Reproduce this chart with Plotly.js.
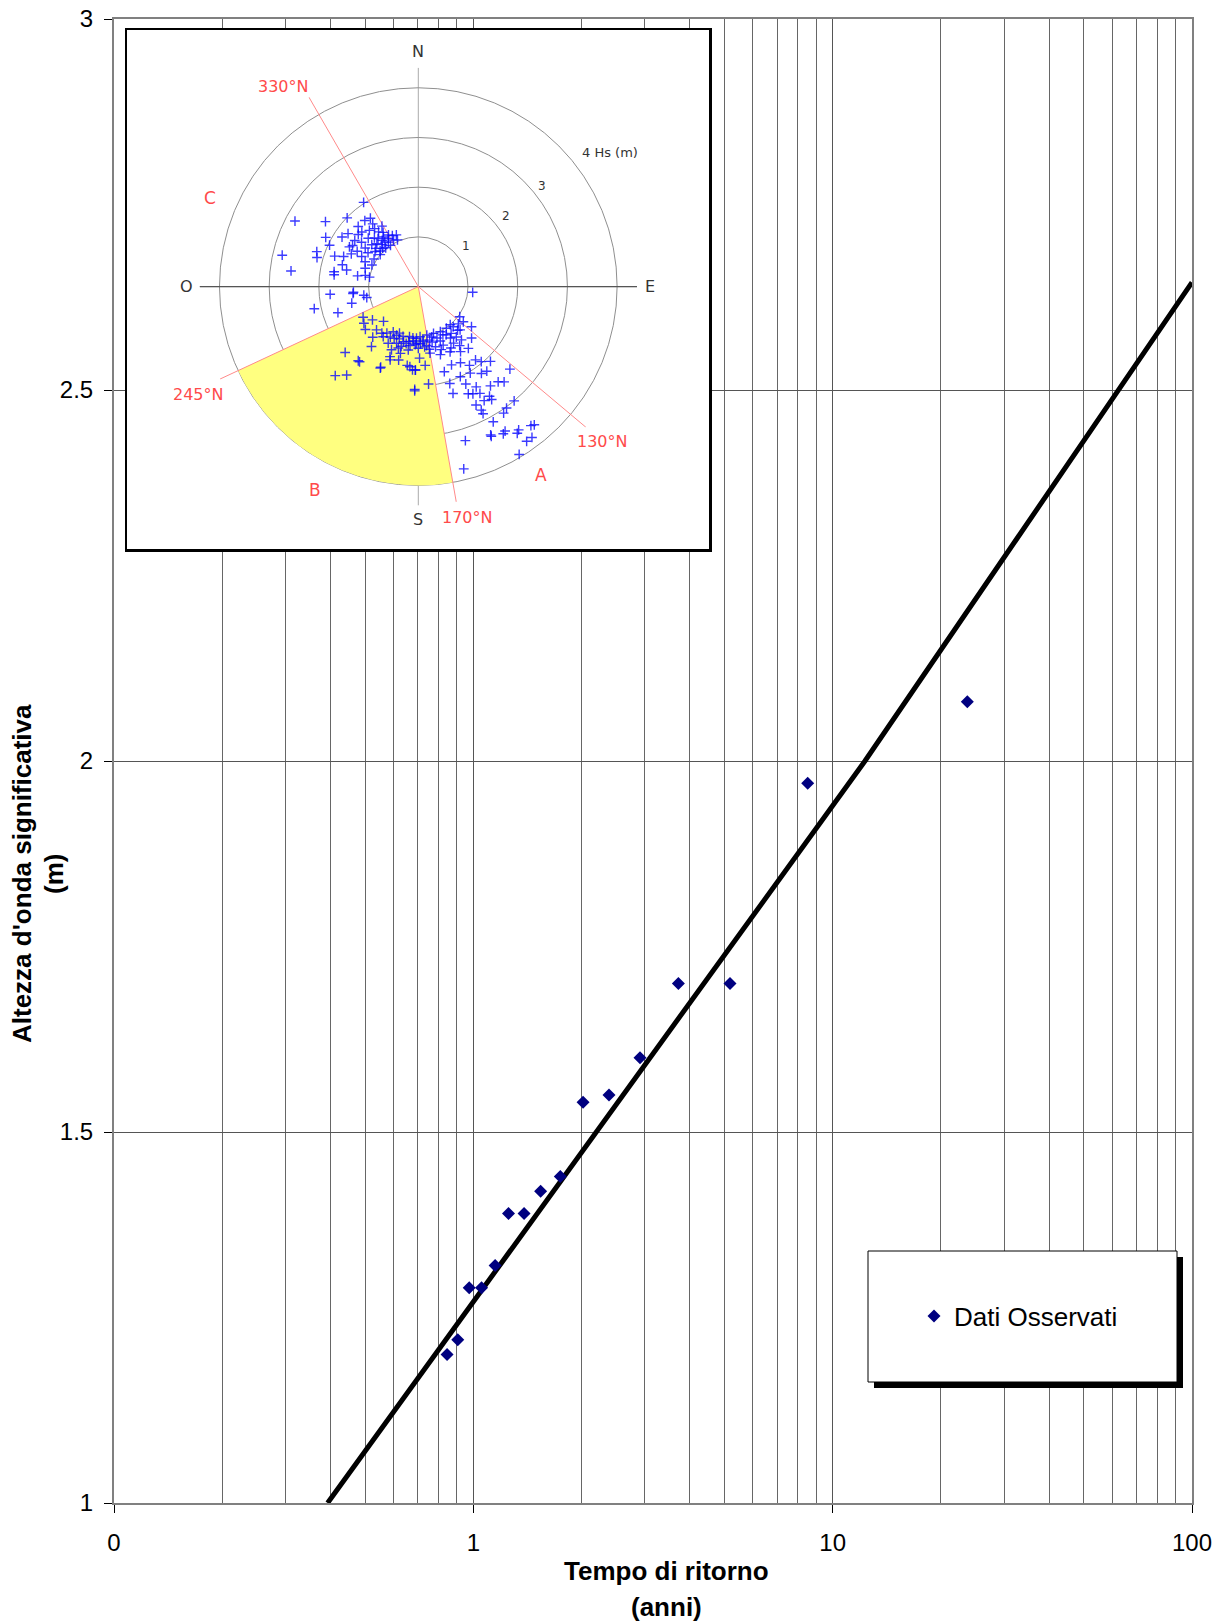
<!DOCTYPE html>
<html>
<head>
<meta charset="utf-8">
<script src="https://cdn.plot.ly/plotly-3.0.1.min.js"></script>
<style>
  html, body { margin: 0; padding: 0; background: #ffffff; }
  #chart { width: 1224px; height: 1623px; }
</style>
</head>
<body>
<div id="chart"></div>
<script>
// ================= DATA =================
// Observed significant wave heights vs return period
const returnPeriodYears = [0.845, 0.905, 0.974, 1.054, 1.15, 1.253, 1.384, 1.539, 1.746, 2.02, 2.385, 2.91, 3.72, 5.18, 8.52, 23.7];
const hsObserved        = [1.20, 1.22, 1.29, 1.29, 1.32, 1.39, 1.39, 1.42, 1.44, 1.54, 1.55, 1.60, 1.70, 1.70, 1.97, 2.08];

// Fitted curve, read at points along the drawn line
const fitReturnPeriod = [0.393, 2.55, 12.3, 100];
const fitHs           = [1.0, 1.543, 2.0, 2.645];

// Axis ticks
const xTickVals = [0.1, 1, 10, 100];
const xTickText = ['0', '1', '10', '100'];
const yTickVals = [1, 1.5, 2, 2.5, 3];
const yTickText = ['1', '1.5', '2', '2.5', '3'];

// Inset: wave direction (deg from North) and Hs (m)
const insetDirection = [
  298,305,314,327,321,283,277,298,289,286,295,290,292,286,280,278,283,280,282,281,303,307,302,315,314,300,298,295,314,312,323,325,320,319,323,328,332,337,336,309,310,306,295,306,289,324,325,324,
  316,318,322,326,330,312,317,327,333,308,311,304,300,296,319,329,302,313,320,326,
  265,264,261,258,252,256,258,265,
  96,
  241,236,234,225,231,224,218,214,209,202,222,215,209,204,197,190,182,175,218,208,201,196,192,183,203,195,189,180,228,219,202,201,195,205,188,182,186,223,219,182,179,
  126,128,127,140,186,178,170,162,154,146,139,136,153,160,168,175,182,148,143,174,164,157,148,141,134,170,162,154,147,141,175,182,163,157,151,147,142,140,136,162,155,149,144,141,154,150,150,144,140,138,132,153,162,
  150,158,166,172,185,190,195,200,205,145,138,133,165,178,188,198,160,152,170,145,
  155,147,154,150,147,153,153,146,151,144,140,163,154,149,146,145,145,143,140,149,166,150,154,141,
  182,218,205,184,174
];
const insetHs = [
  2.81,2.28,1.99,2.02,1.71,2.81,2.58,2.11,2.16,2.12,1.97,1.79,1.62,1.59,1.72,1.71,1.48,1.24,1.09,1.00,1.83,1.77,1.56,1.71,1.58,1.42,1.29,1.18,1.40,1.26,1.46,1.68,1.26,1.12,1.12,1.14,1.06,1.13,1.03,1.12,1.00,1.32,1.03,1.58,1.13,1.36,1.22,1.56,
  1.20,1.32,1.18,1.08,1.20,1.15,1.05,1.30,1.15,1.45,1.60,1.22,1.60,1.50,1.50,1.42,1.05,1.05,1.02,1.00,
  1.78,1.32,1.11,2.14,1.70,1.38,1.06,1.31,
  1.10,
  1.27,1.32,1.14,0.99,1.37,1.21,1.19,1.13,1.04,1.01,1.37,1.23,1.16,1.07,1.05,1.02,1.04,1.08,1.53,1.29,1.22,1.25,1.17,1.17,1.38,1.39,1.29,1.24,1.98,1.92,1.52,1.58,1.53,1.79,1.60,1.68,1.62,2.45,2.29,2.07,1.44,
  1.03,1.15,1.34,1.00,1.04,1.01,0.99,0.99,1.01,1.01,1.07,1.21,1.09,1.10,1.10,1.11,1.14,1.22,1.27,1.22,1.26,1.28,1.34,1.38,1.49,1.36,1.44,1.46,1.56,1.60,1.59,1.68,1.79,1.71,1.75,1.89,1.87,1.97,2.09,2.05,2.00,2.03,2.16,2.19,2.18,2.33,2.48,2.47,2.50,2.58,2.48,2.42,2.26,
  1.12,1.18,1.15,1.20,1.10,1.12,1.15,1.12,1.15,1.15,1.18,1.10,1.05,1.15,1.20,1.30,1.35,1.40,1.28,1.45,
  2.38,2.63,2.65,2.65,2.71,2.79,2.87,3.07,3.11,3.02,3.00,3.24,3.32,3.39,3.56,3.52,3.80,3.80,3.63,3.94,3.78,3.42,3.35,3.60,
  2.10,1.92,1.81,1.68,1.97
];
// Sector B (shaded) bounds in deg N and its Hs extent
const sectorBounds = [170, 245];
const sectorHs = 4;
// Sector boundary directions (deg N)
const boundaryDirections = [330, 130, 245, 170];
// Hs rings
const ringValues = [1, 2, 3, 4];

// ================= LAYOUT HELPERS =================
const W = 1224, H = 1623;
const margin = {l: 114, r: 32, t: 19, b: 120};
const plotW = W - margin.l - margin.r;
const plotH = H - margin.t - margin.b;
const toPaperX = px => (px - margin.l) / plotW;
const toPaperY = py => (H - margin.b - py) / plotH;

const FONT = 'Liberation Sans, Arial, sans-serif';
const INSET_FONT = 'DejaVu Sans, sans-serif';

// inset geometry (pixels)
const insetBox = {x0: 127, y0: 30, x1: 709, y1: 549};
const polarCenter = {x: 418.3, y: 286.6};
const polarRmax = 4.4;
const polarRadiusPx = 218.7;
const pxPerMeter = polarRadiusPx / polarRmax;

// minor log gridlines
const minorGrid = [];
[0.1, 1, 10].forEach(d => { for (let k = 2; k <= 9; k++) minorGrid.push(+(k * d).toPrecision(3)); });

// inset labels: text placed at (Hs radius, bearing)
const insetLabels = [
  {text: 'N', r: 4.73, th: 0, color: '#333333', size: 16},
  {text: 'S', r: 4.68, th: 180, color: '#333333', size: 16},
  {text: 'E', r: 4.66, th: 90, color: '#333333', size: 16},
  {text: 'O', r: 4.66, th: 270, color: '#333333', size: 16},
  {text: '330°N', r: 4.86, th: 326, color: '#ff4a4a', size: 16},
  {text: '245°N', r: 4.93, th: 244, color: '#ff4a4a', size: 16},
  {text: '130°N', r: 4.85, th: 130, color: '#ff4a4a', size: 16},
  {text: '170°N', r: 4.75, th: 168, color: '#ff4a4a', size: 16},
  {text: 'A', r: 4.53, th: 147, color: '#ff4a4a', size: 17},
  {text: 'B', r: 4.59, th: 207, color: '#ff4a4a', size: 17},
  {text: 'C', r: 4.56, th: 293, color: '#ff4a4a', size: 17},
  {text: '1', r: 1.26, th: 50, color: '#333333', size: 12},
  {text: '2', r: 2.26, th: 51, color: '#333333', size: 12},
  {text: '3', r: 3.21, th: 51, color: '#333333', size: 12},
  {text: '4 Hs (m)', r: 4.72, th: 55, color: '#333333', size: 13}
];

// ================= TRACES =================
const traces = [
  {
    type: 'scatter', x: fitReturnPeriod, y: fitHs, mode: 'lines',
    line: {color: '#000000', width: 5}, showlegend: false, hoverinfo: 'skip'
  },
  {
    type: 'scatter', x: returnPeriodYears, y: hsObserved, mode: 'markers',
    name: 'Dati Osservati',
    marker: {symbol: 'diamond', size: 10, color: '#000080'}
  },
  // placeholder so the inset frame subplot (x2/y2) exists; draws nothing
  {
    type: 'scatter', x: [null], y: [null], xaxis: 'x2', yaxis: 'y2', mode: 'markers',
    showlegend: false, hoverinfo: 'skip'
  },
  {
    type: 'barpolar', subplot: 'polar',
    r: [sectorHs], base: 0,
    theta: [(sectorBounds[0] + sectorBounds[1]) / 2],
    width: [sectorBounds[1] - sectorBounds[0]],
    marker: {color: '#ffff80', line: {width: 0}},
    showlegend: false, hoverinfo: 'skip'
  },
  // darker East-West reference line across the rose
  {
    type: 'scatterpolar', subplot: 'polar', mode: 'lines',
    r: [polarRmax, polarRmax], theta: [90, 270],
    line: {color: '#555555', width: 1.2},
    showlegend: false, hoverinfo: 'skip'
  },
  {
    type: 'scatterpolar', subplot: 'polar', mode: 'lines',
    r: boundaryDirections.flatMap(() => [polarRmax, 0, null]),
    theta: boundaryDirections.flatMap(d => [d, d, null]),
    line: {color: '#ff8a8a', width: 1},
    showlegend: false, hoverinfo: 'skip'
  },
  {
    type: 'scatterpolar', subplot: 'polar', mode: 'markers',
    r: insetHs, theta: insetDirection,
    marker: {symbol: 'cross-thin', size: 7, color: 'rgba(10,10,255,0.8)',
             line: {color: 'rgba(10,10,255,0.8)', width: 1.4}},
    showlegend: false, hoverinfo: 'skip'
  }
];

// ================= ANNOTATIONS =================
const annotations = [];
function addText(text, px, py, opts) {
  annotations.push(Object.assign({
    text: text, xref: 'paper', yref: 'paper', x: toPaperX(px), y: toPaperY(py),
    xanchor: 'center', yanchor: 'middle', showarrow: false
  }, opts));
}
// axis titles
addText('<b>Tempo di ritorno</b>', 666, 1571, {font: {family: FONT, size: 26, color: '#000'}});
addText('<b>(anni)</b>', 666, 1607, {font: {family: FONT, size: 26, color: '#000'}});
addText("<b>Altezza d'onda significativa</b>", 22, 874, {textangle: -90, font: {family: FONT, size: 26, color: '#000'}});
addText('<b>(m)</b>', 54, 874, {textangle: -90, font: {family: FONT, size: 26, color: '#000'}});
// inset labels
insetLabels.forEach(l => {
  const a = l.th * Math.PI / 180;
  const px = polarCenter.x + l.r * pxPerMeter * Math.sin(a);
  const py = polarCenter.y - l.r * pxPerMeter * Math.cos(a);
  addText(l.text, px, py, {font: {family: INSET_FONT, size: l.size, color: l.color}});
});

// ================= SHAPES (legend box with shadow) =================
const legendBox = {x0: 868, y0: 1251, x1: 1177, y1: 1382};
const shadowOff = 6;
const shapes = [
  {type: 'rect', xref: 'paper', yref: 'paper', layer: 'above',
   x0: toPaperX(legendBox.x0 + shadowOff), x1: toPaperX(legendBox.x1 + shadowOff),
   y0: toPaperY(legendBox.y0 + shadowOff), y1: toPaperY(legendBox.y1 + shadowOff),
   fillcolor: '#000000', line: {width: 0}},
  {type: 'rect', xref: 'paper', yref: 'paper', layer: 'above',
   x0: toPaperX(legendBox.x0), x1: toPaperX(legendBox.x1),
   y0: toPaperY(legendBox.y0), y1: toPaperY(legendBox.y1),
   fillcolor: '#ffffff', line: {color: '#000000', width: 1}}
];

// ================= LAYOUT =================
const layout = {
  width: W, height: H,
  margin: margin,
  paper_bgcolor: '#ffffff', plot_bgcolor: '#ffffff',
  font: {family: FONT, color: '#000'},
  showlegend: true,
  legend: {
    x: toPaperX(914), y: toPaperY(1316), xanchor: 'left', yanchor: 'middle',
    bgcolor: 'rgba(0,0,0,0)', borderwidth: 0,
    font: {family: FONT, size: 26, color: '#000'}
  },
  xaxis: {
    type: 'log', range: [-1, 2], tickmode: 'array', tickvals: xTickVals, ticktext: xTickText,
    ticks: 'outside', ticklen: 8, tickwidth: 1, tickcolor: '#000',
    showgrid: true, gridcolor: '#555555', gridwidth: 1,
    minor: {tickmode: 'array', tickvals: minorGrid, showgrid: true, gridcolor: '#666666', gridwidth: 1, ticks: ''},
    showline: true, linecolor: '#808080', linewidth: 2, mirror: true, zeroline: false,
    tickfont: {family: FONT, size: 24, color: '#000'}, ticklabelstandoff: 9, fixedrange: true
  },
  yaxis: {
    range: [1, 3], tickmode: 'array', tickvals: yTickVals, ticktext: yTickText,
    ticks: 'outside', ticklen: 8, tickwidth: 1, tickcolor: '#000',
    showgrid: true, gridcolor: '#555555', gridwidth: 1,
    showline: true, linecolor: '#808080', linewidth: 2, mirror: true, zeroline: false,
    tickfont: {family: FONT, size: 24, color: '#000'}, ticklabelstandoff: 6, fixedrange: true
  },
  xaxis2: {
    domain: [toPaperX(insetBox.x0), toPaperX(insetBox.x1)], anchor: 'y2', range: [0, 1],
    showgrid: false, zeroline: false, showticklabels: false, ticks: '',
    showline: true, mirror: true, linecolor: '#000', linewidth: 2.5, fixedrange: true
  },
  yaxis2: {
    domain: [toPaperY(insetBox.y1), toPaperY(insetBox.y0)], anchor: 'x2', range: [0, 1],
    showgrid: false, zeroline: false, showticklabels: false, ticks: '',
    showline: true, mirror: true, linecolor: '#000', linewidth: 2.5, fixedrange: true
  },
  polar: {
    domain: {
      x: [toPaperX(polarCenter.x - polarRadiusPx), toPaperX(polarCenter.x + polarRadiusPx)],
      y: [toPaperY(polarCenter.y + polarRadiusPx), toPaperY(polarCenter.y - polarRadiusPx)]
    },
    bgcolor: 'rgba(0,0,0,0)', bargap: 0,
    radialaxis: {
      range: [0, polarRmax], tickmode: 'array', tickvals: ringValues, showticklabels: false,
      ticks: '', showline: false, gridcolor: '#8f8f8f', gridwidth: 1
    },
    angularaxis: {
      rotation: 90, direction: 'clockwise', tickmode: 'array', tickvals: [0, 90, 180, 270],
      showticklabels: false, ticks: '', showline: false, gridcolor: '#aaaaaa', gridwidth: 1
    }
  },
  shapes: shapes,
  annotations: annotations
};

Plotly.newPlot('chart', traces, layout, {displayModeBar: false, staticPlot: true});
</script>
</body>
</html>
